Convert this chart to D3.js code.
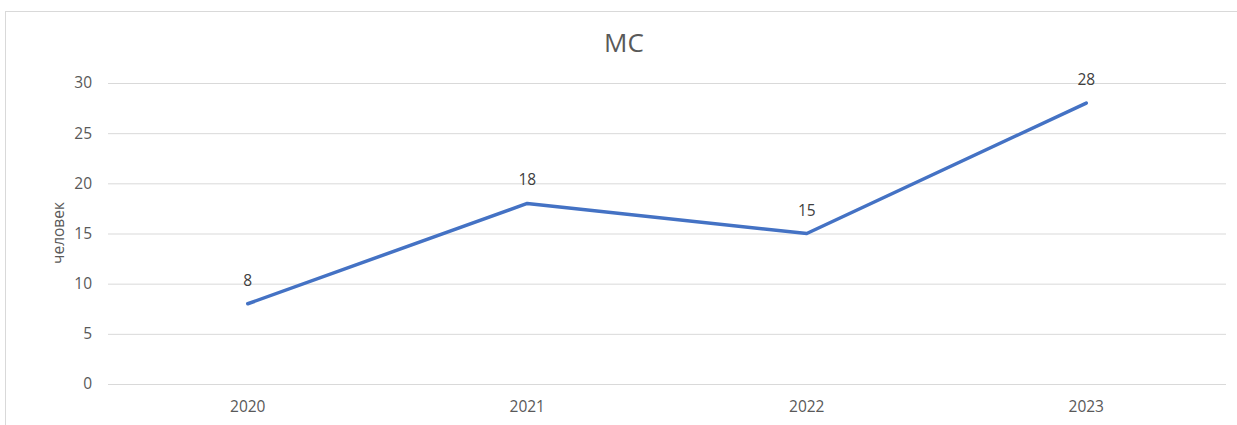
<!DOCTYPE html>
<html><head><meta charset="utf-8">
<script src="https://cdn.jsdelivr.net/npm/d3@7"></script>
<style>body{margin:0;background:#fff;overflow:hidden;} svg{display:block;} text{font-family:"Open Sans",sans-serif;}</style>
</head><body>
<svg id="c" width="1237" height="425"></svg>
<script>
const title = "МС";
const yLabel = "человек";
const categories = ["2020","2021","2022","2023"];
const values = [8,18,15,28];
const yTicks = [0,5,10,15,20,25,30];

const svg = d3.select("#c");
svg.append("rect").attr("x",5.5).attr("y",11.5).attr("width",1240).attr("height",420)
  .attr("fill","#fff").attr("stroke","#d9d9d9");

const pLeft=108,pRight=1226,pTop=83,pBottom=384;
const x = d3.scaleBand().domain(categories).range([pLeft,pRight]);
const y = d3.scaleLinear().domain([0,30]).range([pBottom,pTop]);

const yAxis = svg.append("g").attr("transform",`translate(${pLeft},0)`)
  .call(d3.axisLeft(y).tickValues(yTicks).tickSize(-(pRight-pLeft)).tickPadding(16));
yAxis.select(".domain").remove();
yAxis.selectAll("line").attr("stroke","#d9d9d9").attr("stroke-width",1);
yAxis.selectAll("text").attr("fill","#595959").style("font-size","15.5px");

const xAxis = svg.append("g").attr("transform",`translate(0,${pBottom})`)
  .call(d3.axisBottom(x).tickSize(0).tickPadding(17));
xAxis.select(".domain").remove();
xAxis.selectAll("text").attr("fill","#595959").style("font-size","15.5px");

const cx = d => x(d)+x.bandwidth()/2;
const line = d3.line().x((d,i)=>cx(categories[i])).y(d=>y(d));
svg.append("path").datum(values).attr("d",line).attr("fill","none")
  .attr("stroke","#4472C4").attr("stroke-width",3.5).attr("stroke-linecap","round").attr("stroke-linejoin","round");

svg.selectAll(".lbl").data(values).enter().append("text")
  .attr("x",(d,i)=>cx(categories[i])).attr("y",d=>y(d)-18)
  .attr("text-anchor","middle").attr("fill","#404040").style("font-size","15.5px").text(d=>d);

svg.append("text").attr("x",624).attr("y",52).attr("text-anchor","middle")
  .attr("fill","#595959").style("font-size","26px").text(title);

svg.append("text").attr("transform",`translate(64,233) rotate(-90)`).attr("text-anchor","middle")
  .attr("fill","#595959").style("font-size","15.5px").text(yLabel);
</script>
</body></html>
